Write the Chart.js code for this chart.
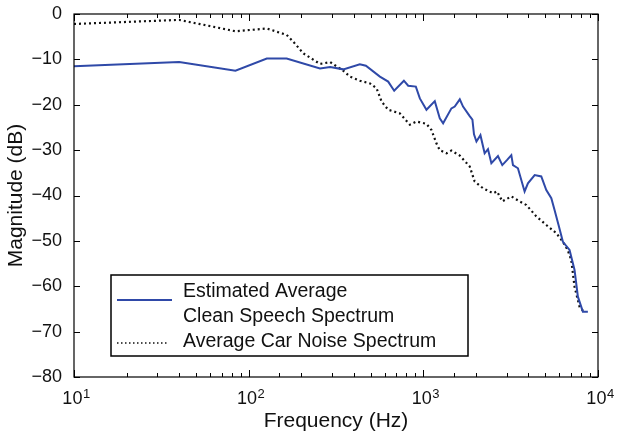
<!DOCTYPE html>
<html>
<head>
<meta charset="utf-8">
<script src="https://cdn.jsdelivr.net/npm/chart.js@4"></script>
<style>
  html, body { margin: 0; padding: 0; background: #fff; }
  #wrap { width: 621px; height: 439px; }
</style>
</head>
<body>
<div id="wrap"><canvas id="c" width="621" height="439"></canvas></div>
<script>
const speechFreq = [10, 40, 84, 127, 165, 256, 293, 348, 433, 469, 564, 629, 681, 774, 819, 906, 955, 1042, 1163, 1242, 1298, 1448, 1513, 1617, 1688, 1843, 1910, 1950, 2014, 2123, 2244, 2345, 2452, 2675, 2832, 3010, 3190, 3260, 3480, 3800, 3970, 4340, 4734, 5058, 5404, 5640, 5970, 6295, 6872, 7340, 7670, 8190, 8750];
const speechDb = [-11.5, -10.6, -12.5, -9.8, -9.8, -12.0, -11.7, -12.2, -11.1, -11.4, -13.8, -14.9, -16.9, -14.7, -15.8, -16.0, -18.6, -21.1, -19.2, -23.0, -24.1, -20.8, -20.4, -18.8, -20.4, -22.5, -23.3, -26.5, -28.1, -26.7, -30.7, -29.8, -32.9, -31.3, -33.3, -32.2, -31.1, -33.3, -34.0, -39.1, -37.3, -35.5, -35.8, -38.8, -40.6, -43.2, -46.8, -50.2, -52.0, -56.4, -62.3, -65.6, -65.6];

const noiseFreq = [10, 40, 84, 127, 165, 180, 206, 256, 293, 348, 380, 433, 495, 540, 577, 629, 734, 837, 914, 1042, 1114, 1188, 1242, 1357, 1448, 1617, 1843, 1966, 2196, 2506, 2642, 2835, 3190, 3558, 3890, 4436, 5058, 5770, 6295, 6700, 7030, 7340, 7840, 8370];
const noiseDb = [-2.2, -1.3, -3.8, -3.2, -4.6, -6.1, -8.7, -11.0, -10.6, -12.5, -13.8, -14.7, -15.3, -16.4, -19.3, -21.1, -21.9, -24.4, -23.7, -24.2, -25.6, -28.5, -30.0, -30.7, -30.1, -31.2, -33.6, -36.9, -38.4, -39.5, -39.1, -41.3, -40.2, -41.3, -42.1, -44.6, -46.5, -48.3, -50.2, -52.0, -54.2, -60.1, -64.5, -65.8];

const seriesNames = ['Estimated Average\nClean Speech Spectrum', 'Average Car Noise Spectrum'];
const xMin = 10, xMax = 10000;
const yMin = -80, yMax = 0, yStep = 10;

const FONT = '"Liberation Sans", Arial, sans-serif';
const blue = '#2f49a8';

const pts = (xs, ys) => xs.map((x, i) => ({x, y: ys[i]}));
const isDecade = v => Math.abs(Math.log10(v) - Math.round(Math.log10(v))) < 1e-9;

// matlab style box with inward ticks, power-of-ten labels and the legend box
const boxPlugin = {
  id: 'box',
  afterDraw(chart) {
    const {ctx, chartArea: a, scales} = chart;
    ctx.save();
    ctx.strokeStyle = '#000';
    ctx.lineWidth = 1.2;
    ctx.strokeRect(a.left, a.top, a.right - a.left, a.bottom - a.top);
    ctx.lineWidth = 1;
    ctx.beginPath();
    for (const t of scales.x.ticks) {
      const px = Math.round(scales.x.getPixelForValue(t.value)) + 0.5;
      const len = isDecade(t.value) ? 7 : 4;
      ctx.moveTo(px, a.bottom); ctx.lineTo(px, a.bottom - len);
      ctx.moveTo(px, a.top); ctx.lineTo(px, a.top + len);
    }
    for (const t of scales.y.ticks) {
      const py = Math.round(scales.y.getPixelForValue(t.value)) + 0.5;
      ctx.moveTo(a.left, py); ctx.lineTo(a.left + 6, py);
      ctx.moveTo(a.right, py); ctx.lineTo(a.right - 6, py);
    }
    ctx.stroke();

    // x tick labels as 10 with a raised exponent
    ctx.fillStyle = '#111';
    ctx.textBaseline = 'alphabetic';
    ctx.textAlign = 'left';
    for (const t of scales.x.ticks) {
      if (!isDecade(t.value)) continue;
      const px = scales.x.getPixelForValue(t.value);
      const e = String(Math.round(Math.log10(t.value)));
      ctx.font = '18px ' + FONT;
      const wb = ctx.measureText('10').width;
      ctx.font = '13px ' + FONT;
      const we = ctx.measureText(e).width;
      const x0 = px - (wb + we) / 2 + 2;
      ctx.font = '18px ' + FONT;
      ctx.fillText('10', x0, 404);
      ctx.font = '13px ' + FONT;
      ctx.fillText(e, x0 + wb + 0.5, 398);
    }

    // legend
    const lx = 111, ly = 275, lw = 357, lh = 81;
    ctx.fillStyle = '#fff';
    ctx.fillRect(lx, ly, lw, lh);
    ctx.strokeStyle = '#000';
    ctx.lineWidth = 1.5;
    ctx.strokeRect(lx, ly, lw, lh);
    ctx.fillStyle = '#111';
    ctx.font = '19.5px ' + FONT;
    const lines1 = seriesNames[0].split('\n');
    ctx.fillText(lines1[0], 183, 297);
    ctx.fillText(lines1[1], 183, 322);
    ctx.fillText(seriesNames[1], 183, 347);
    ctx.strokeStyle = blue;
    ctx.lineWidth = 2;
    ctx.beginPath(); ctx.moveTo(117, 300); ctx.lineTo(172, 300); ctx.stroke();
    ctx.strokeStyle = '#111';
    ctx.setLineDash([1.5, 2.5]);
    ctx.lineWidth = 1.5;
    ctx.beginPath(); ctx.moveTo(117, 343); ctx.lineTo(169, 343); ctx.stroke();
    ctx.restore();
  }
};

new Chart(document.getElementById('c'), {
  type: 'line',
  data: {
    datasets: [
      {
        label: seriesNames[0],
        data: pts(speechFreq, speechDb),
        borderColor: blue,
        borderWidth: 2,
        pointRadius: 0,
        tension: 0,
        fill: false
      },
      {
        label: seriesNames[1],
        data: pts(noiseFreq, noiseDb),
        borderColor: '#111',
        borderWidth: 2.2,
        borderDash: [2, 3],
        pointRadius: 0,
        tension: 0,
        fill: false
      }
    ]
  },
  options: {
    responsive: false,
    animation: false,
    layout: {padding: {top: 14, right: 23, bottom: 5, left: 0}},
    plugins: {legend: {display: false}, tooltip: {enabled: false}},
    scales: {
      x: {
        type: 'logarithmic',
        min: xMin,
        max: xMax,
        grid: {display: false, drawTicks: false},
        border: {display: false},
        ticks: {display: false, autoSkip: false},
        title: {display: true, text: 'Frequency (Hz)', color: '#111', font: {family: FONT, size: 21}, padding: {top: 2, bottom: 0}},
        afterFit: s => { s.height = 57; s.paddingLeft = 0; s.paddingRight = 0; }
      },
      y: {
        min: yMin,
        max: yMax,
        grid: {display: false, drawTicks: false},
        border: {display: false},
        ticks: {
          stepSize: yStep,
          padding: 12,
          color: '#111',
          font: {family: FONT, size: 18},
          callback: v => v === 0 ? '0' : '\u2212' + Math.abs(v)
        },
        title: {display: true, text: 'Magnitude (dB)', color: '#111', font: {family: FONT, size: 21}, padding: {top: 4, bottom: 4}},
        afterFit: s => { s.width = 74; s.paddingTop = 0; s.paddingBottom = 0; }
      }
    }
  },
  plugins: [boxPlugin]
});
</script>
</body>
</html>
